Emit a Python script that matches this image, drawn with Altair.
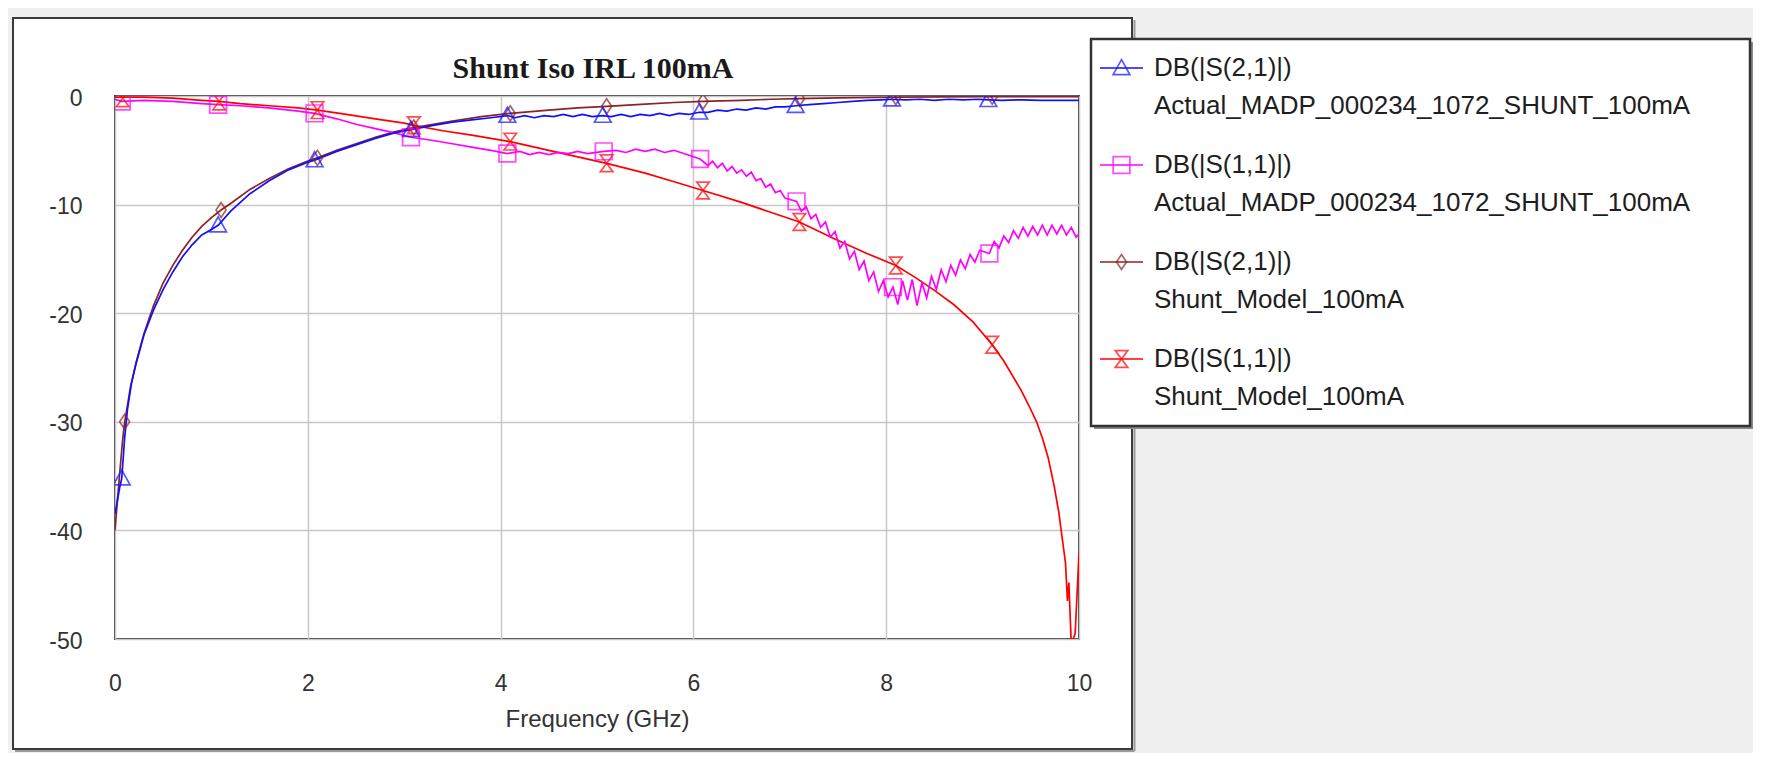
import altair as alt
import pandas as pd

# ---------------- chart values ----------------
chart_title = "Shunt Iso IRL 100mA"
x_title = "Frequency (GHz)"
series_keys = ["S21_actual", "S11_actual", "S21_model", "S11_model"]
legend_line1 = ["DB(|S(2,1)|)", "DB(|S(1,1)|)", "DB(|S(2,1)|)", "DB(|S(1,1)|)"]
legend_line2 = ["Actual_MADP_000234_1072_SHUNT_100mA",
                "Actual_MADP_000234_1072_SHUNT_100mA",
                "Shunt_Model_100mA", "Shunt_Model_100mA"]
series_colors = ["#1010ff", "#ff00ff", "#8b2323", "#ff0000"]
# marker glyphs: triangle, square, diamond, hourglass
marker_paths = ["M0,-1L1,0.8L-1,0.8Z",
                "M-1,-1L1,-1L1,1L-1,1Z",
                "M0,-0.9L0.6,0L0,0.9L-0.6,0Z",
                "M-0.75,-1L0.75,-1L-0.75,1L0.75,1Z"]

x_ticks = [0, 2, 4, 6, 8, 10]
y_ticks = [-50, -40, -30, -20, -10, 0]

# DB(|S(2,1)|) Actual  (frequency GHz, dB)
s21_actual = [(0.00, -38.5), (0.02, -37.5), (0.05, -36.0), (0.07, -35.2), (0.10, -31.5),
              (0.13, -28.8), (0.17, -26.5), (0.22, -24.6), (0.30, -22.0), (0.40, -19.7),
              (0.50, -17.8), (0.60, -16.2), (0.70, -14.8), (0.80, -13.7), (0.90, -12.8),
              (1.00, -12.3), (1.07, -11.9), (1.20, -10.6), (1.40, -9.0), (1.60, -7.8),
              (1.80, -6.8), (2.00, -6.1), (2.07, -5.9), (2.30, -5.1), (2.50, -4.5),
              (2.70, -3.9), (2.90, -3.4), (3.07, -3.1), (3.30, -2.7), (3.50, -2.4),
              (3.70, -2.2), (3.90, -2.0), (4.07, -1.8), (4.15, -2.0), (4.25, -1.8),
              (4.35, -2.0), (4.45, -1.8), (4.55, -1.9), (4.65, -1.7), (4.75, -1.9),
              (4.85, -1.7), (4.95, -1.9), (5.06, -1.8), (5.15, -1.9), (5.25, -1.7),
              (5.35, -1.9), (5.45, -1.7), (5.55, -1.8), (5.65, -1.6), (5.75, -1.8),
              (5.85, -1.6), (5.95, -1.7), (6.06, -1.5), (6.15, -1.5), (6.25, -1.3),
              (6.35, -1.4), (6.45, -1.2), (6.55, -1.3), (6.65, -1.1), (6.75, -1.2),
              (6.85, -1.0), (6.95, -1.0), (7.06, -0.9), (7.20, -0.8), (7.35, -0.7),
              (7.50, -0.6), (7.65, -0.5), (7.80, -0.4), (7.95, -0.35), (8.06, -0.3),
              (8.20, -0.35), (8.35, -0.3), (8.50, -0.4), (8.65, -0.3), (8.80, -0.35),
              (8.95, -0.3), (9.06, -0.35), (9.20, -0.4), (9.40, -0.35), (9.60, -0.4),
              (9.80, -0.4), (10.00, -0.4)]
s21_actual_markers = [(0.07, -35.2), (1.07, -11.9), (2.07, -5.9), (3.07, -3.1), (4.07, -1.8),
                      (5.06, -1.8), (6.06, -1.5), (7.06, -0.9), (8.06, -0.3), (9.06, -0.35)]

# DB(|S(1,1)|) Actual
s11_actual = [(0.00, -0.3), (0.07, -0.5), (0.30, -0.4), (0.60, -0.5), (0.90, -0.7),
              (1.07, -0.8), (1.30, -0.9), (1.60, -1.1), (1.90, -1.4), (2.07, -1.6),
              (2.30, -2.1), (2.50, -2.6), (2.70, -3.0), (2.90, -3.4), (3.07, -3.8),
              (3.30, -4.1), (3.50, -4.4), (3.70, -4.7), (3.90, -5.0), (4.07, -5.3),
              (4.20, -5.1), (4.30, -5.4), (4.40, -5.2), (4.50, -5.4), (4.60, -5.2),
              (4.70, -5.3), (4.80, -5.1), (4.90, -5.3), (5.07, -5.1), (5.20, -5.0),
              (5.30, -5.2), (5.40, -4.9), (5.50, -5.1), (5.60, -4.9), (5.70, -5.2),
              (5.80, -5.0), (5.90, -5.3), (6.07, -5.8), (6.15, -6.4), (6.20, -6.0),
              (6.25, -6.6), (6.30, -6.2), (6.35, -6.9), (6.40, -6.5), (6.45, -7.1),
              (6.50, -6.8), (6.55, -7.4), (6.60, -7.0), (6.65, -7.8), (6.70, -7.6),
              (6.75, -8.4), (6.80, -8.1), (6.85, -8.9), (6.90, -8.7), (6.95, -9.4),
              (7.07, -9.7), (7.12, -10.6), (7.17, -10.2), (7.22, -11.3), (7.27, -10.9),
              (7.32, -12.1), (7.37, -11.6), (7.42, -13.0), (7.47, -12.5), (7.52, -14.0),
              (7.57, -13.4), (7.62, -15.0), (7.67, -14.3), (7.72, -16.0), (7.77, -15.2),
              (7.82, -17.0), (7.87, -16.2), (7.92, -18.0), (7.97, -17.0), (8.02, -18.5),
              (8.07, -17.6), (8.12, -19.2), (8.17, -17.0), (8.22, -18.8), (8.27, -16.9),
              (8.32, -19.3), (8.37, -17.2), (8.42, -18.6), (8.47, -16.6), (8.52, -17.8),
              (8.57, -16.0), (8.62, -17.1), (8.67, -15.6), (8.72, -16.5), (8.77, -15.1),
              (8.82, -15.9), (8.87, -14.6), (8.92, -15.3), (8.97, -14.2), (9.07, -14.5),
              (9.12, -13.4), (9.17, -14.0), (9.22, -12.9), (9.27, -13.5), (9.32, -12.4),
              (9.37, -13.1), (9.42, -12.1), (9.47, -12.9), (9.52, -12.0), (9.57, -12.8),
              (9.62, -11.9), (9.67, -12.8), (9.72, -11.9), (9.77, -12.7), (9.82, -11.9),
              (9.87, -12.8), (9.92, -12.1), (9.97, -13.0), (10.00, -12.7)]
s11_actual_markers = [(0.07, -0.5), (1.07, -0.8), (2.07, -1.6), (3.07, -3.8), (4.07, -5.3),
                      (5.07, -5.1), (6.07, -5.8), (7.07, -9.7), (8.07, -17.6), (9.07, -14.5)]

# DB(|S(2,1)|) Shunt model
s21_model = [(0.00, -40.0), (0.02, -37.8), (0.05, -34.6), (0.08, -31.6), (0.10, -30.0),
             (0.12, -29.0), (0.16, -26.8), (0.22, -24.5), (0.30, -21.9), (0.40, -19.3),
             (0.50, -17.2), (0.60, -15.6), (0.70, -14.2), (0.80, -13.0), (0.90, -12.0),
             (1.00, -11.2), (1.10, -10.5), (1.20, -9.9), (1.40, -8.6), (1.60, -7.6),
             (1.80, -6.7), (2.00, -6.0), (2.10, -5.7), (2.30, -5.0), (2.50, -4.4),
             (2.70, -3.8), (2.90, -3.3), (3.10, -2.9), (3.50, -2.3), (3.80, -1.9),
             (4.10, -1.6), (4.50, -1.3), (4.80, -1.1), (5.10, -0.95), (5.50, -0.75),
             (5.80, -0.6), (6.10, -0.5), (6.50, -0.4), (6.80, -0.3), (7.10, -0.25),
             (7.50, -0.18), (8.10, -0.1), (9.00, -0.06), (10.00, -0.05)]
s21_model_markers = [(0.10, -30.0), (1.10, -10.5), (2.10, -5.7), (3.10, -2.9), (4.10, -1.6),
                     (5.10, -0.95), (6.10, -0.5), (7.10, -0.25), (8.10, -0.1), (9.10, -0.06)]

# DB(|S(1,1)|) Shunt model
s11_model = [(0.00, -0.1), (0.30, -0.1), (0.60, -0.2), (0.90, -0.4), (1.08, -0.5),
             (1.30, -0.7), (1.60, -0.9), (1.90, -1.1), (2.10, -1.3), (2.40, -1.7),
             (2.70, -2.1), (3.00, -2.5), (3.10, -2.7), (3.40, -3.2), (3.70, -3.6),
             (4.10, -4.2), (4.50, -5.0), (4.80, -5.6), (5.10, -6.2), (5.50, -7.1),
             (5.80, -7.9), (6.10, -8.7), (6.50, -9.8), (6.80, -10.7), (7.10, -11.6),
             (7.45, -13.1), (7.80, -14.5), (8.10, -15.6), (8.30, -16.7), (8.50, -17.9),
             (8.70, -19.2), (8.90, -20.8), (9.10, -22.9), (9.22, -24.4), (9.32, -25.9),
             (9.40, -27.1), (9.48, -28.5), (9.56, -30.0), (9.62, -31.5), (9.68, -33.3),
             (9.74, -35.8), (9.79, -38.3), (9.83, -41.0), (9.86, -43.0), (9.88, -46.5),
             (9.895, -44.8), (9.92, -50.5), (9.96, -49.5), (9.99, -44.0), (10.00, -42.0)]
s11_model_markers = [(0.08, -0.2), (1.08, -0.5), (2.10, -1.3), (3.10, -2.7), (4.10, -4.2),
                     (5.10, -6.2), (6.10, -8.7), (7.10, -11.6), (8.10, -15.6), (9.10, -22.9)]

# ---------------- tables ----------------
draw_order = [("S21_model", s21_model, s21_model_markers),
              ("S11_model", s11_model, s11_model_markers),
              ("S11_actual", s11_actual, s11_actual_markers),
              ("S21_actual", s21_actual, s21_actual_markers)]
line_rows, mark_rows = [], []
for key, pts, mks in draw_order:
    for i, (f, d) in enumerate(pts):
        line_rows.append({"series": key, "f": f, "db": d, "i": i})
    for f, d in mks:
        mark_rows.append({"series": key, "f": f, "db": d})
lines_df = pd.DataFrame(line_rows)
marks_df = pd.DataFrame(mark_rows)
legend_df = pd.DataFrame({"series": series_keys, "line1": legend_line1,
                          "line2": legend_line2, "row": list(range(len(series_keys)))})
one = pd.DataFrame({"k": [0]})
title_df = pd.DataFrame({"t": [chart_title]})

FONT = "Liberation Sans"
W, H = 964, 543
MSIZE = 280

color = alt.Color("series:N", scale=alt.Scale(domain=series_keys, range=series_colors), legend=None)
shape = alt.Shape("series:N", scale=alt.Scale(domain=series_keys, range=marker_paths), legend=None)

LBL = "'' + datum.value"
xenc = alt.X("f:Q", scale=alt.Scale(domain=[0, 10], nice=False),
             axis=alt.Axis(values=x_ticks, title=x_title, labelPadding=33,
                           titlePadding=12, labelFlush=False, labelExpr=LBL))
yenc = alt.Y("db:Q", scale=alt.Scale(domain=[-50, 0], nice=False),
             axis=alt.Axis(values=y_ticks, title=None, labelPadding=33, labelOffset=2,
                           labelFlush=False, labelExpr=LBL))

lines = alt.Chart(lines_df).mark_line(strokeWidth=1.7, clip=True).encode(
    x=xenc, y=yenc, color=color, order="i:Q", detail="series:N")
points = alt.Chart(marks_df).mark_point(filled=False, size=MSIZE, strokeWidth=1.7, clip=True).encode(
    x="f:Q", y="db:Q", color=color, shape=shape)
main = alt.layer(lines, points)


def box(x1, x2, y1, y2, **kw):
    return alt.Chart(one).mark_rect(**kw).encode(
        x=alt.value(x1), x2=alt.value(x2), y=alt.value(y1), y2=alt.value(y2))


def rule(x1, x2, y1, y2, **kw):
    return alt.Chart(one).mark_rule(**kw).encode(
        x=alt.value(x1), x2=alt.value(x2), y=alt.value(y1), y2=alt.value(y2))


GRAY = "#f0f0f0"
deco = [
    box(-107, -102, -88, 660, fill=GRAY),
    box(-107, 1640, -88, -78, fill=GRAY),
    box(1017, 1640, -88, 660, fill=GRAY),
    box(-107, 1640, 655, 660, fill=GRAY),
    rule(1019.5, 1019.5, -76, 655, stroke="#9a9a9a", strokeWidth=2),
    rule(-100, 1019.5, 655, 655, stroke="#9a9a9a", strokeWidth=2),
    box(-102, 1017, -78, 653, fill="transparent", stroke="#3a3a3a", strokeWidth=2),
]

title = alt.Chart(title_df).mark_text(
    align="center", baseline="alphabetic", font="Liberation Serif", fontSize=30,
    fontWeight="bold", color="#1a1a1a").encode(
    x=alt.value(478), y=alt.value(-18), text="t:N")

leg_shadow = box(979, 1638, -54, 333, fill="#8a8a8a")
leg_box = box(976, 1635, -57, 330, fill="white", stroke="#333333", strokeWidth=2.5)

ly = alt.Y("row:Q", scale=alt.Scale(domain=[0, 3], range=[-28, 263]), axis=None)
leg_rule = alt.Chart(legend_df).mark_rule(strokeWidth=1.7).encode(
    x=alt.value(985), x2=alt.value(1028), y=ly, color=color)
leg_pts = alt.Chart(legend_df).mark_point(filled=False, size=MSIZE, strokeWidth=1.7).encode(
    x=alt.value(1006.5), y=ly, color=color, shape=shape)
leg_t1 = alt.Chart(legend_df).mark_text(align="left", baseline="middle", font=FONT,
                                        fontSize=26, color="#1e1e1e").encode(
    x=alt.value(1039), y=ly, text="line1:N")
leg_t2 = alt.Chart(legend_df).mark_text(align="left", baseline="middle", font=FONT,
                                        fontSize=26, color="#1e1e1e", dy=38).encode(
    x=alt.value(1039), y=ly, text="line2:N")
legend = alt.layer(leg_rule, leg_pts, leg_t1, leg_t2)

chart = alt.layer(*deco, title, main, leg_shadow, leg_box, legend).resolve_scale(
    y="independent"
).properties(
    width=W, height=H,
    autosize=alt.AutoSizeParams(type="none"),
    padding={"left": 107, "top": 88, "right": 674, "bottom": 114},
).configure(
    background="white", font=FONT
).configure_view(
    stroke="#3a3a3a", strokeWidth=2, fill="white"
).configure_axis(
    labelFont=FONT, labelFontSize=23, labelColor="#333333",
    titleFont=FONT, titleFontSize=24, titleFontWeight="normal", titleColor="#333333",
    tickSize=0, domain=False, grid=True, gridColor="#c8c8c8", gridWidth=1.5,
)

chart.save("out.html", embed_options={"renderer": "svg", "actions": False})
